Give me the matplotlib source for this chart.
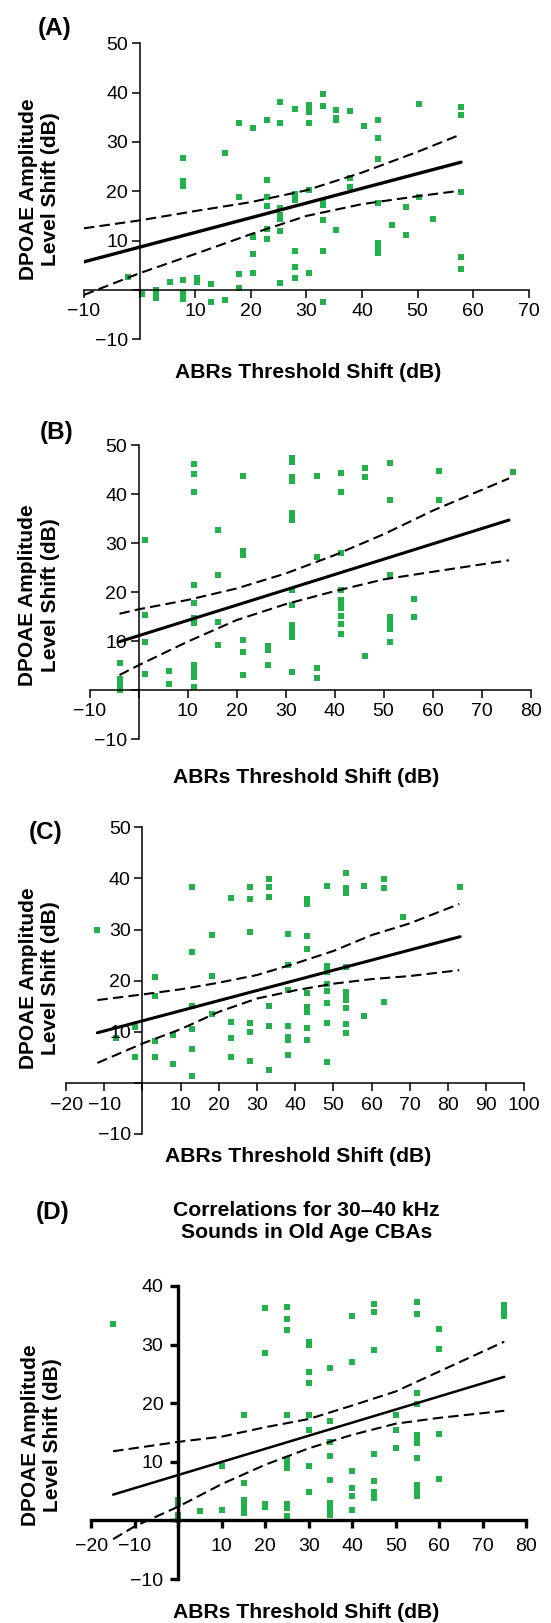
import numpy as np
import matplotlib
matplotlib.use("Agg")
from matplotlib import pyplot as plt
from matplotlib.ticker import FixedLocator, FuncFormatter

plt.rcParams['font.family'] = ['Liberation Sans', 'DejaVu Sans']

GREEN = '#22b14c'

# ---- panel A ----
a_xcol = [-2.0, 0.5, 2.9, 5.4, 7.8, 10.4, 12.9, 15.4, 17.9, 20.4, 22.9, 25.3,
          27.9, 30.4, 32.9, 35.4, 37.9, 40.3, 42.8, 45.4, 47.9, 50.3, 52.8, 57.8]
a_ycol = [[2.7], [-0.8], [0.0, -0.9, -1.7], [1.6],
          [26.8, 22.0, 21.0, 2.0, -0.7, -1.9], [2.5, 1.6], [1.2, -2.4],
          [27.7, -2.0], [33.8, 18.9, 3.2, 0.5], [32.9, 10.8, 7.3, 3.5],
          [34.5, 22.3, 18.9, 17.0, 12.3, 10.3],
          [38.2, 33.8, 16.6, 15.2, 14.3, 12.0, 1.4],
          [36.6, 19.4, 18.2, 8.0, 4.7, 2.5],
          [37.5, 36.8, 36.1, 33.8, 20.3, 3.4],
          [39.7, 37.3, 17.9, 17.2, 14.2, 7.8, -2.4],
          [36.5, 34.8, 34.5, 12.2], [36.3, 22.6, 20.9], [33.2],
          [34.5, 30.9, 26.5, 17.7, 9.6, 8.8, 7.4], [13.2], [16.8, 11.1],
          [37.6, 18.9], [14.3], [37.0, 35.5, 19.8, 6.6, 4.2]]
a_fit_x = [-10, 57.8]
a_fit_y = [5.7, 25.9]
a_band_x = [-10, 0, 10, 20, 30, 40, 50, 57.5]
a_upper = [12.5, 14.1, 16.0, 17.8, 20.2, 23.8, 28.0, 31.4]
a_lower = [-1.0, 3.4, 7.3, 11.3, 15.0, 17.4, 19.0, 20.1]

# ---- panel B ----
b_xcol = [-3.7, 1.3, 6.3, 11.3, 16.3, 21.3, 26.4, 31.3, 36.4, 41.3, 46.3,
          51.3, 56.3, 61.4, 76.4]
b_ycol = [[5.5, 2.3, 1.5, 0.8, 0.1], [30.6, 15.3, 9.9, 3.3], [4.0, 1.3],
          [46.1, 44.0, 40.4, 21.5, 17.7, 14.7, 13.8, 5.2, 4.3, 3.5, 2.6, 0.6],
          [32.7, 23.5, 14.0, 9.2], [43.7, 28.3, 27.6, 10.3, 7.7, 3.1],
          [9.0, 8.2, 5.2],
          [47.3, 46.6, 43.4, 42.7, 36.2, 35.5, 34.8, 20.4, 17.4, 13.3, 12.3,
           11.5, 10.8, 3.8],
          [43.7, 27.1, 4.5, 2.4],
          [44.2, 40.5, 27.9, 20.4, 18.4, 17.6, 16.7, 15.1, 13.6, 11.5],
          [45.4, 43.4, 7.0], [46.3, 38.8, 23.5, 15.0, 14.1, 13.3, 12.4, 9.9],
          [18.7, 15.0], [44.6, 38.8], [44.4]]
b_fit_x = [-3.9, 75.6]
b_fit_y = [9.9, 34.7]
b_band_x = [-3.9, 0, 10, 20, 30, 40, 50, 60, 75.6]
b_upper = [15.6, 16.5, 18.4, 20.75, 23.8, 27.55, 31.8, 36.6, 43.2]
b_lower = [3.1, 5.1, 9.9, 14.3, 17.55, 20.2, 22.6, 24.15, 26.5]

# ---- panel C ----
c_xcol = [-11.8, -6.9, -1.9, 3.2, 8.1, 13.1, 18.1, 23.2, 28.2, 33.2, 38.2,
          43.2, 48.3, 53.2, 58.1, 63.2, 68.2, 83.2]
c_ycol = [[29.9], [8.7], [11.0, 5.0], [20.8, 16.9, 8.1, 5.0], [9.4, 3.6],
          [38.3, 25.7, 15.0, 10.5, 6.6, 1.3], [28.9, 21.0, 13.4],
          [36.1, 12.0, 8.7, 5.0], [38.3, 35.9, 29.6, 11.7, 9.9, 4.3],
          [39.9, 38.4, 36.3, 15.0, 11.2, 2.6],
          [29.1, 23.1, 18.2, 11.2, 9.0, 8.3, 5.5],
          [35.9, 35.0, 28.7, 26.2, 17.5, 14.9, 13.9, 10.7, 8.3],
          [38.5, 22.9, 21.6, 19.3, 18.0, 15.6, 11.8, 4.1],
          [41.0, 38.1, 37.2, 22.7, 17.8, 16.9, 16.2, 14.6, 11.5, 9.7],
          [38.5, 13.0], [39.9, 38.1, 15.9], [32.5], [38.3]]
c_fit_x = [-11.8, 83.2]
c_fit_y = [9.8, 28.6]
c_band_x = [-11.8, 0, 10, 20, 30, 40, 50, 60, 70, 83]
c_upper = [16.2, 17.3, 18.3, 19.6, 21.1, 23.35, 25.8, 28.9, 31.2, 35.0]
c_lower = [3.9, 7.7, 10.5, 13.9, 16.5, 18.1, 19.4, 20.3, 20.9, 22.05]

# ---- panel D ----
d_xcol = [-15, 0, 5, 10, 15, 20, 25, 30, 35, 40, 45, 50, 55, 60, 75]
d_ycol = [[33.5], [3.5, 2.8, 0.9, 0.1], [1.6], [9.2, 1.8],
          [18.0, 6.4, 3.5, 2.8, 2.1, 1.3], [36.2, 28.6, 2.8, 2.3],
          [36.5, 34.4, 32.5, 18.0, 10.4, 9.7, 8.9, 2.8, 2.2, 0.7],
          [30.5, 30.0, 25.4, 23.5, 18.0, 15.4, 9.2, 4.9],
          [26.0, 17.0, 13.4, 11.0, 6.9, 3.0, 2.3, 1.7, 0.9],
          [34.9, 27.0, 8.5, 5.6, 4.2, 1.8],
          [37.0, 35.6, 29.0, 11.3, 6.8, 4.9, 4.3, 3.8],
          [18.0, 15.5, 12.3],
          [37.2, 35.2, 21.7, 19.9, 14.6, 13.8, 13.2, 10.6, 6.0, 5.2, 4.2],
          [32.7, 29.2, 14.7, 7.0], [36.8, 36.0, 35.3, 34.8]]
d_fit_x = [-15, 75]
d_fit_y = [4.4, 24.5]
d_band_x_up = [-15, 0, 10, 20, 30, 40, 50, 60, 75]
d_upper = [11.8, 13.4, 14.3, 15.9, 17.3, 19.6, 22.0, 25.4, 30.5]
d_band_x_lo = [-15, -10, 0, 10, 20, 30, 40, 50, 60, 75]
d_lower = [-3.2, -1.0, 2.35, 6.2, 9.5, 12.3, 14.6, 16.5, 17.5, 18.7]

W, H = 551, 1623
fig = plt.figure(figsize=(W / 100, H / 100), dpi=100)


def add_ax(x0, x1, y0, y1):
    return fig.add_axes([x0 / W, 1 - y1 / H, (x1 - x0) / W, (y1 - y0) / H])


def ftext(x, y, s, **kw):
    fig.text(x / W, 1 - y / H, s, ha='center', va='center', **kw)


def lab(v, pos):
    if v == 0:
        return ''
    return ('%g' % v).replace('-', '\u2212')


def draw(ax, xcol, ycol, fit_x, fit_y, up_x, up_y, lo_x, lo_y, xlim, ylim,
         spine_w=1.1, fit_w=2.4, xpad=3.5, ypad=2.6):
    xs = np.concatenate([[x] * len(ys) for x, ys in zip(xcol, ycol)])
    ys = np.concatenate(ycol)
    ax.scatter(xs, ys, s=17, marker='s', color=GREEN, linewidths=0, zorder=1)
    ax.plot(fit_x, fit_y, color='black', lw=fit_w, solid_capstyle='round', zorder=3)
    ax.plot(up_x, up_y, color='black', lw=1.5, ls=(0, (5, 2.5)), zorder=3)
    ax.plot(lo_x, lo_y, color='black', lw=1.5, ls=(0, (5, 2.5)), zorder=3)
    ax.set_xlim(*xlim)
    ax.set_ylim(*ylim)
    ax.patch.set_visible(False)
    for s in ['top', 'right']:
        ax.spines[s].set_visible(False)
    for s in ['left', 'bottom']:
        ax.spines[s].set_position(('data', 0))
        ax.spines[s].set_linewidth(spine_w)
    ax.xaxis.set_major_locator(FixedLocator(np.arange(xlim[0], xlim[1] + 1, 10)))
    ax.yaxis.set_major_locator(FixedLocator(np.arange(ylim[0], ylim[1] + 1, 10)))
    ax.xaxis.set_major_formatter(FuncFormatter(lab))
    ax.yaxis.set_major_formatter(FuncFormatter(lab))
    ax.tick_params(axis='both', direction='out', length=5.8, width=spine_w,
                   labelsize=14)
    ax.tick_params(axis='x', pad=xpad)
    ax.tick_params(axis='y', pad=ypad)


axA = add_ax(84.0, 528.8, 43.3, 339.3)
draw(axA, a_xcol, a_ycol, a_fit_x, a_fit_y, a_band_x, a_upper, a_band_x, a_lower,
     (-10, 70), (-10, 50))
axB = add_ax(89.6, 530.6, 445, 739.3)
draw(axB, b_xcol, b_ycol, b_fit_x, b_fit_y, b_band_x, b_upper, b_band_x, b_lower,
     (-10, 80), (-10, 50), fit_w=2.2, xpad=3.7)
axC = add_ax(66.1, 524.2, 827.3, 1134)
draw(axC, c_xcol, c_ycol, c_fit_x, c_fit_y, c_band_x, c_upper, c_band_x, c_lower,
     (-20, 100), (-10, 50), fit_w=2.2, xpad=4.5)
axD = add_ax(91.4, 526.0, 1286, 1579)
draw(axD, d_xcol, d_ycol, d_fit_x, d_fit_y, d_band_x_up, d_upper, d_band_x_lo,
     d_lower, (-20, 80), (-10, 40), spine_w=2.4, fit_w=1.8, xpad=7, ypad=5)

ylab = 'DPOAE Amplitude\nLevel Shift (dB)'
xlab = 'ABRs Threshold Shift (dB)'
# tag, tag x, tag y, ylabel x, ylabel y, xlabel x, xlabel y
for tag, tx, ty, yl_x, yl_y, xl_x, xl_y in [('(A)', 55.0, 28, 39.5, 189, 307.8, 373),
                                             ('(B)', 56.9, 432, 39.0, 595, 305.7, 777),
                                             ('(C)', 45.3, 833, 39.5, 978, 298.3, 1157),
                                             ('(D)', 52.7, 1213, 41.6, 1435, 305.7, 1613)]:
    ftext(tx, ty, tag, fontsize=17.5, fontweight='bold')
    ftext(yl_x, yl_y, ylab, fontsize=15, fontweight='bold', rotation=90,
          multialignment='center', linespacing=1.25)
    ftext(xl_x, xl_y, xlab, fontsize=15.2, fontweight='bold')

ftext(306.8, 1221, 'Correlations for 30\u201340 kHz\nSounds in Old Age CBAs',
      fontsize=15.2, fontweight='bold', multialignment='center', linespacing=1.2)

fig.savefig('out.png', dpi=100)
